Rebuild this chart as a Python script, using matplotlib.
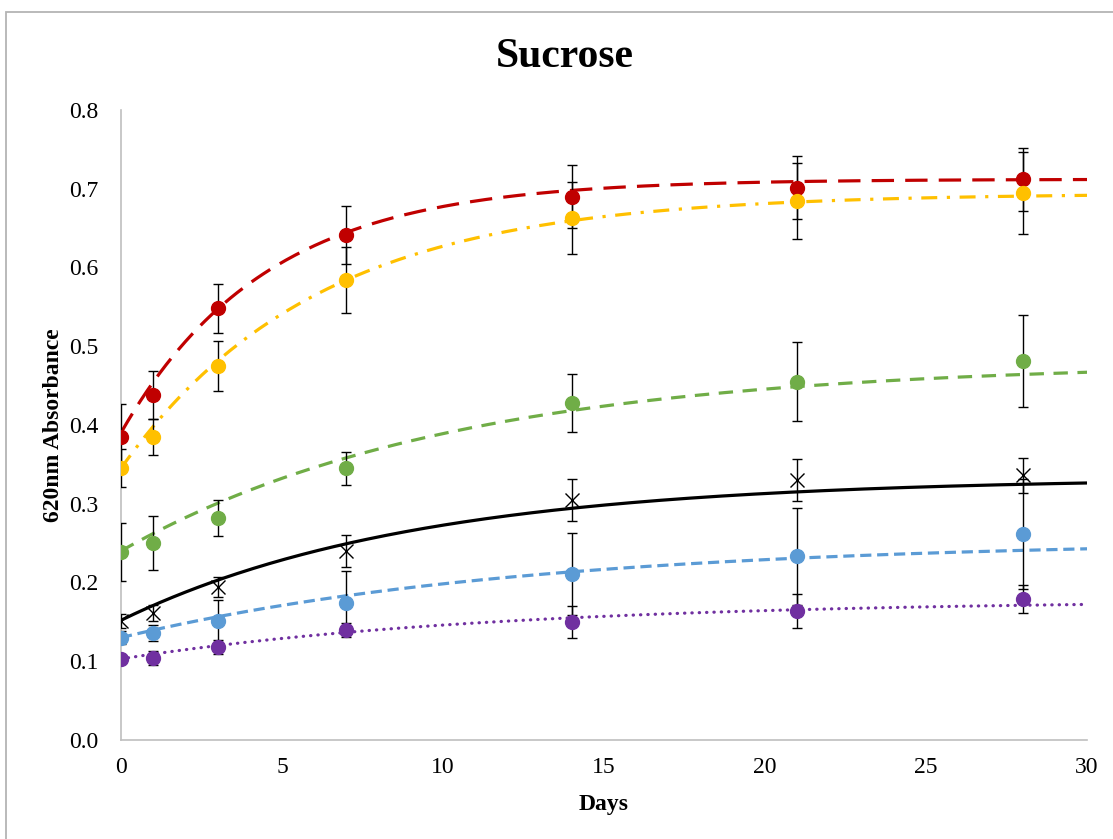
import numpy as np
import matplotlib.pyplot as plt
from matplotlib.patches import Rectangle

plt.rcParams['font.family'] = ['Liberation Serif', 'DejaVu Serif']

days = np.array([0, 1, 3, 7, 14, 21, 28])

# mean absorbance and error per series
red = [0.385, 0.438, 0.548, 0.641, 0.690, 0.701, 0.712]
red_err = [0.042, 0.031, 0.031, 0.037, 0.040, 0.040, 0.040]
yellow = [0.345, 0.385, 0.475, 0.584, 0.663, 0.684, 0.695]
yellow_err = [0.024, 0.023, 0.032, 0.042, 0.046, 0.048, 0.052]
green = [0.239, 0.250, 0.282, 0.345, 0.428, 0.455, 0.481]
green_err = [0.037, 0.034, 0.023, 0.021, 0.037, 0.050, 0.058]
black = [0.151, 0.161, 0.194, 0.240, 0.305, 0.330, 0.336]
black_err = [0.009, 0.010, 0.013, 0.020, 0.027, 0.027, 0.022]
blue = [0.130, 0.136, 0.151, 0.174, 0.211, 0.233, 0.262]
blue_err = [0.008, 0.010, 0.027, 0.041, 0.052, 0.062, 0.070]
purple = [0.103, 0.104, 0.118, 0.140, 0.150, 0.164, 0.179]
purple_err = [0.005, 0.009, 0.009, 0.009, 0.020, 0.022, 0.018]

# first-order growth fits: y = plateau - (plateau - start) * exp(-rate * t)
# order: red, yellow, green, black, blue, purple
fit_start = [0.390, 0.345, 0.240, 0.152, 0.130, 0.103]
fit_plateau = [0.712, 0.694, 0.480, 0.333, 0.254, 0.178]
fit_rate = [0.223, 0.165, 0.097, 0.110, 0.080, 0.085]

series = [
    (red, red_err, '#C00000', 'o', (0, (7, 3.5))),
    (yellow, yellow_err, '#FFC000', 'o', (0, (5, 3, 1, 3))),
    (green, green_err, '#70AD47', 'o', (0, (4.5, 3))),
    (black, black_err, 'black', 'x', '-'),
    (blue, blue_err, '#5B9BD5', 'o', (0, (3.5, 1.8))),
    (purple, purple_err, '#7030A0', 'o', (0, (0.1, 2.2))),
]

fig = plt.figure(figsize=(11.13, 8.39), dpi=100)
ax = fig.add_axes([0.1087, 0.118, 0.868, 0.751])

xs = np.linspace(0, 30, 300)
for i, (y, err, col, mk, ls) in enumerate(series):
    y0, a, k = fit_start[i], fit_plateau[i], fit_rate[i]
    curve = a - (a - y0) * np.exp(-k * xs)
    cap = 'round' if col == '#7030A0' else 'butt'
    ax.plot(xs, curve, color=col, lw=2.3, ls=ls, dash_capstyle=cap, zorder=2)
    ax.errorbar(days, y, yerr=err, fmt='none', ecolor='black', elinewidth=1,
                capsize=3.8, capthick=1, zorder=3)
    if mk == 'x':
        ax.plot(days, y, 'x', color='black', ms=10, mew=1, zorder=4)
    else:
        ax.plot(days, y, 'o', color=col, ms=10, mec=col, zorder=4)

ax.set_xlim(0, 30)
ax.set_ylim(0, 0.8)
ax.set_xticks(np.arange(0, 31, 5))
ax.set_yticks(np.arange(0, 0.81, 0.1))
ax.set_yticklabels([f'{v:.1f}' for v in np.arange(0, 0.81, 0.1)])
ax.tick_params(length=0, labelsize=17)
ax.tick_params(axis='y', pad=16)
ax.tick_params(axis='x', pad=12)
for s in ['top', 'right']:
    ax.spines[s].set_visible(False)
for s in ['left', 'bottom']:
    ax.spines[s].set_color('#BFBFBF')
    ax.spines[s].set_linewidth(1.2)

fig.text(565 / 1113, 1 - 57 / 839, 'Sucrose', fontsize=30, fontweight='bold',
         ha='center', va='center')
ax.set_xlabel('Days', fontsize=17, fontweight='bold', labelpad=12)
ax.set_ylabel('620nm Absorbance', fontsize=17, fontweight='bold', labelpad=4)

# chart area border
fig.patches.append(Rectangle((6 / 1113, -0.1), 1.2, 0.1 + 1 - 12 / 839,
                             transform=fig.transFigure, fill=False,
                             edgecolor='#B4B4B4', lw=1.3))

fig.savefig('out.png', dpi=100)
